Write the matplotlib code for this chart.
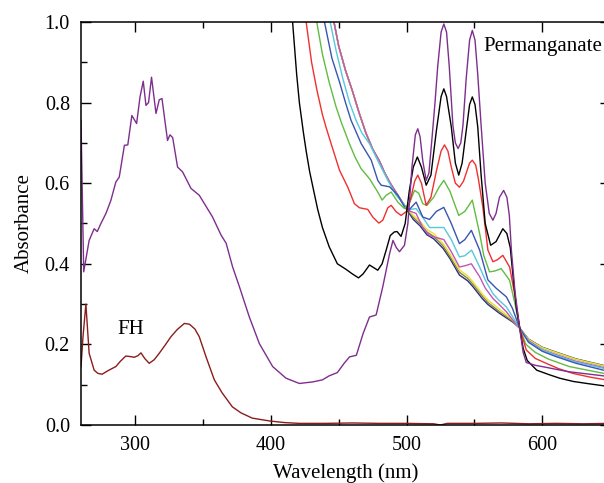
import matplotlib
matplotlib.use("Agg")
import matplotlib.pyplot as plt
from matplotlib.ticker import MultipleLocator

plt.rcParams['font.family'] = 'serif'
plt.rcParams['font.serif'] = ['Liberation Serif', 'DejaVu Serif']

# FH spectrum
fh_wl = [260, 261.5, 263.6, 266, 269.7, 272.5, 275.6, 280, 285.7, 289, 293, 296, 299.3,
         302, 304.2, 307, 310.3, 314, 317.7, 322, 326.3, 331, 336.2, 340, 344, 347.2,
         352.2, 358.3, 364, 371.6, 378, 386.3, 399, 410, 421, 440, 460, 480, 500, 520,
         525, 530, 550, 570, 590, 610, 630, 650]
fh_abs = [0.145, 0.22, 0.30, 0.178, 0.136, 0.128, 0.126, 0.135, 0.145, 0.158, 0.171,
          0.170, 0.168, 0.172, 0.179, 0.165, 0.153, 0.162, 0.178, 0.198, 0.219, 0.237,
          0.252, 0.25, 0.238, 0.219, 0.169, 0.112, 0.08, 0.045, 0.03, 0.017, 0.01, 0.006,
          0.004, 0.004, 0.005, 0.004, 0.004, 0.003, 0.0, 0.004, 0.004, 0.005, 0.003,
          0.004, 0.003, 0.004]

# purple (permanganate) spectrum
purple_wl = [260, 262, 266, 269.7, 272, 274.7, 278.4, 282, 285.7, 288.2, 292, 294.5,
             297.5, 301, 303.5, 305.9, 307.9, 309.8, 312, 315.3, 317.7, 319.7, 323.8,
             325.6, 327.6, 331.2, 334.9, 341.1, 347.2, 357, 363.3, 367, 371.8, 376.8,
             384.1, 391.5, 401.3, 411.2, 421, 431, 438, 443, 449, 454, 458, 463, 468,
             472.7, 477.6, 482.5, 487.5, 490, 492.5, 494.8, 498.5, 501, 504, 506.5, 508.3,
             510, 512, 514.5, 516.5, 519, 521, 523, 525.5, 527.5, 529.5, 531.5, 534.2, 536,
             538, 540, 541.6, 544, 546.5, 548.5, 550.5, 552.5, 555, 558, 561, 563.7, 566,
             568.5, 571.6, 574, 575.8, 577.3, 580, 583.4, 586, 588.3, 595, 603, 612, 620,
             635, 650]
purple_abs = [0.756, 0.38, 0.458, 0.487, 0.48, 0.50, 0.525, 0.557, 0.603, 0.615, 0.694,
              0.695, 0.768, 0.748, 0.814, 0.853, 0.793, 0.80, 0.863, 0.773, 0.807, 0.81,
              0.706, 0.72, 0.713, 0.64, 0.628, 0.587, 0.57, 0.516, 0.471, 0.451, 0.392,
              0.343, 0.268, 0.202, 0.145, 0.116, 0.103, 0.107, 0.112, 0.122, 0.130, 0.153,
              0.169, 0.173, 0.227, 0.268, 0.273, 0.343, 0.425, 0.458, 0.44, 0.43, 0.446,
              0.50, 0.64, 0.72, 0.735, 0.715, 0.655, 0.607, 0.625, 0.72, 0.80, 0.89, 0.975,
              0.995, 0.975, 0.89, 0.743, 0.70, 0.686, 0.70, 0.743, 0.86, 0.955, 0.979,
              0.955, 0.87, 0.743, 0.60, 0.525, 0.508, 0.525, 0.565, 0.582, 0.565, 0.52,
              0.434, 0.33, 0.24, 0.18, 0.155, 0.148, 0.143, 0.137, 0.132, 0.126, 0.12]

black_wl = [412, 416, 419, 421, 424, 426, 428.5, 431, 434.5, 438, 443, 449, 455.5, 460,
            464.6, 468, 472.7, 476, 478.8, 482, 485, 488, 491, 493, 496, 499, 502, 505,
            508, 511, 514.5, 518, 522, 525.5, 527.5, 529.5, 533, 536, 538.5, 541, 544,
            546.5, 548.5, 550.5, 552.5, 555, 558, 562, 566, 571, 574, 576.5, 578.5, 581,
            583.5, 586, 589, 596, 605, 613, 623, 633, 650]
black_abs = [1.15, 1.0, 0.87, 0.80, 0.725, 0.68, 0.63, 0.59, 0.535, 0.49, 0.442, 0.40,
             0.386, 0.375, 0.365, 0.375, 0.397, 0.39, 0.384, 0.40, 0.434, 0.47, 0.479,
             0.48, 0.468, 0.50, 0.58, 0.64, 0.665, 0.64, 0.595, 0.62, 0.73, 0.815, 0.834,
             0.815, 0.74, 0.65, 0.62, 0.65, 0.73, 0.795, 0.814, 0.795, 0.74, 0.62, 0.50,
             0.446, 0.455, 0.487, 0.475, 0.44, 0.37, 0.29, 0.24, 0.19, 0.16, 0.136, 0.125,
             0.116, 0.108, 0.103, 0.095]

red_wl = [423, 426, 430, 434, 438, 441, 444.4, 450.6, 456.7, 461.6, 465.3, 471.4, 475.1,
          479.6, 482.5, 486.2, 488.7, 492.4, 496, 500, 503, 506, 508.3, 511, 514.5, 518,
          522, 525.5, 528, 530.5, 533, 536, 539, 542, 544, 546.5, 548.5, 551, 553,
          556.3, 560, 563.7, 567, 571, 576, 580, 583.5, 588.3, 595, 603, 612, 622.7, 635,
          650]
red_abs = [1.08, 1.0, 0.90, 0.83, 0.77, 0.735, 0.698, 0.632, 0.59, 0.549, 0.539, 0.535,
           0.516, 0.501, 0.508, 0.539, 0.545, 0.529, 0.52, 0.53, 0.56, 0.605, 0.62, 0.60,
           0.545, 0.565, 0.63, 0.68, 0.695, 0.68, 0.64, 0.60, 0.59, 0.605, 0.625, 0.65,
           0.657, 0.645, 0.61, 0.54, 0.434, 0.405, 0.41, 0.421, 0.392, 0.32, 0.24, 0.186,
           0.165, 0.153, 0.14, 0.128, 0.119, 0.11]

green_wl = [431, 433.8, 438, 443, 448, 452, 457.9, 462, 466.5, 472.7, 478.8, 482, 485,
            488.7, 493.6, 498.5, 502, 505.9, 509, 512, 515, 520, 524, 527.5, 532, 538.5,
            543, 548.5, 553.9, 557, 561.2, 565, 569.8, 576, 580, 583.5, 588, 595, 605,
            620, 635, 650]
green_abs = [1.07, 1.0, 0.92, 0.85, 0.79, 0.75, 0.698, 0.665, 0.636, 0.611, 0.578, 0.558,
             0.57, 0.578, 0.553, 0.537, 0.55, 0.582, 0.575, 0.549, 0.545, 0.565, 0.59,
             0.607, 0.58, 0.52, 0.53, 0.558, 0.475, 0.42, 0.38, 0.382, 0.388, 0.359, 0.30,
             0.24, 0.20, 0.18, 0.163, 0.145, 0.135, 0.125]

blue_wl = [437, 439.5, 445, 450.6, 455, 459.1, 466.6, 474, 478.8, 481.3, 487.5, 493.6,
           498.5, 502.2, 507.1, 512, 517, 522, 527.5, 533, 539, 543, 547.8, 553.9, 560,
           566.2, 573.6, 578, 583.5, 590, 600, 610, 625, 650]
blue_abs = [1.06, 1.0, 0.91, 0.851, 0.80, 0.756, 0.698, 0.657, 0.607, 0.595, 0.591, 0.57,
            0.541, 0.535, 0.553, 0.516, 0.51, 0.53, 0.54, 0.50, 0.45, 0.46, 0.483, 0.434,
            0.36, 0.339, 0.318, 0.29, 0.24, 0.205, 0.183, 0.17, 0.153, 0.132]

cyan_wl = [441, 443.7, 448, 453, 458, 462.8, 467, 472.7, 480, 486.2, 492.4, 499.8, 503,
           507, 512, 517, 522, 527.5, 533, 539, 543, 548, 553.9, 558, 563.7, 568, 573.6,
           578, 583.5, 590, 600, 610, 625, 650]
cyan_abs = [1.06, 1.0, 0.93, 0.86, 0.80, 0.756, 0.725, 0.698, 0.648, 0.607, 0.57, 0.541,
            0.535, 0.537, 0.515, 0.49, 0.49, 0.49, 0.46, 0.417, 0.42, 0.434, 0.392, 0.36,
            0.326, 0.31, 0.293, 0.27, 0.24, 0.207, 0.186, 0.173, 0.156, 0.137]

# shared tail (before 500 nm) of the most reacted samples
tail_wl = [444.5, 446.5, 450, 455, 460, 465, 470, 475, 480, 484, 488, 494]
tail_abs = [1.06, 1.0, 0.94, 0.88, 0.83, 0.775, 0.725, 0.685, 0.655, 0.625, 0.60, 0.568]

magenta_wl = tail_wl + [500, 503, 507, 512, 517, 522, 527.5, 533, 539, 543, 547.8, 553.9,
                        558, 563.7, 568, 573.6, 578, 583.5, 590, 600, 610, 625, 650]
magenta_abs = tail_abs + [0.537, 0.53, 0.525, 0.49, 0.47, 0.465, 0.46, 0.43, 0.392, 0.395,
                          0.40, 0.368, 0.34, 0.314, 0.30, 0.281, 0.262, 0.24, 0.209,
                          0.187, 0.175, 0.158, 0.139]

yellow_wl = tail_wl + [500, 505, 510, 515, 520, 527, 532, 539, 545, 549, 556, 560, 568.6,
                       578.5, 583.5, 590, 600, 610, 625, 650]
yellow_abs = tail_abs + [0.537, 0.52, 0.505, 0.485, 0.475, 0.45, 0.425, 0.385, 0.37, 0.355,
                         0.325, 0.31, 0.287, 0.26, 0.24, 0.212, 0.192, 0.18, 0.163, 0.143]

olive_wl = tail_wl + [500, 505, 510, 515, 520, 527, 532, 539, 545, 549, 556, 560, 568.6,
                      578.5, 583.5, 590, 600, 610, 625, 650]
olive_abs = tail_abs + [0.537, 0.515, 0.499, 0.479, 0.468, 0.444, 0.418, 0.379, 0.364,
                        0.349, 0.319, 0.304, 0.281, 0.257, 0.24, 0.212, 0.192, 0.18,
                        0.163, 0.143]

navy_wl = tail_wl + [500, 505, 510, 515, 520, 527, 532, 539, 545, 549, 556, 560, 568.6,
                     578.5, 583.5, 590, 600, 610, 625, 650]
navy_abs = tail_abs + [0.535, 0.51, 0.494, 0.472, 0.462, 0.438, 0.413, 0.372, 0.358, 0.343,
                       0.313, 0.299, 0.277, 0.255, 0.24, 0.213, 0.193, 0.181, 0.164, 0.144]

fig = plt.figure(figsize=(6.04, 4.83), dpi=100)
ax = fig.add_axes([0.1341, 0.1201, 0.8758, 0.8344])

lw = 1.0
ax.plot(fh_wl, fh_abs, color='#8B1C1C', lw=lw)
ax.plot(navy_wl, navy_abs, color='#2A2F7A', lw=lw)
ax.plot(olive_wl, olive_abs, color='#86864E', lw=lw)
ax.plot(yellow_wl, yellow_abs, color='#EDE030', lw=lw)
ax.plot(magenta_wl, magenta_abs, color='#C255B5', lw=lw)
ax.plot(cyan_wl, cyan_abs, color='#55C8E0', lw=lw)
ax.plot(blue_wl, blue_abs, color='#3A55B0', lw=lw)
ax.plot(green_wl, green_abs, color='#62BB42', lw=lw)
ax.plot(red_wl, red_abs, color='#F03030', lw=lw)
ax.plot(black_wl, black_abs, color='black', lw=lw)
ax.plot(purple_wl, purple_abs, color='#7E2E8E', lw=lw)

ax.set_xlim(260, 650)
ax.set_ylim(0, 1.0)
ax.xaxis.set_major_locator(MultipleLocator(100))
ax.xaxis.set_minor_locator(MultipleLocator(50))
ax.yaxis.set_major_locator(MultipleLocator(0.2))
ax.yaxis.set_minor_locator(MultipleLocator(0.1))
ax.yaxis.set_major_formatter(plt.FormatStrFormatter('%.1f'))
ax.tick_params(which='both', direction='in', top=True, right=True, labelsize=14.5, width=1.0)
ax.tick_params(which='major', length=7, pad=8)
ax.tick_params(which='minor', length=4)
for s in ax.spines.values():
    s.set_linewidth(1.1)

ax.set_xlabel('Wavelength (nm)', fontsize=15, labelpad=6)
ax.set_ylabel('Absorbance', fontsize=15, labelpad=8)

ax.text(556.8, 0.939, 'Permanganate', fontsize=15, va='center', ha='left')
ax.text(296.7, 0.237, 'FH', fontsize=15, va='center', ha='center')

fig.savefig('out.png', dpi=100)
